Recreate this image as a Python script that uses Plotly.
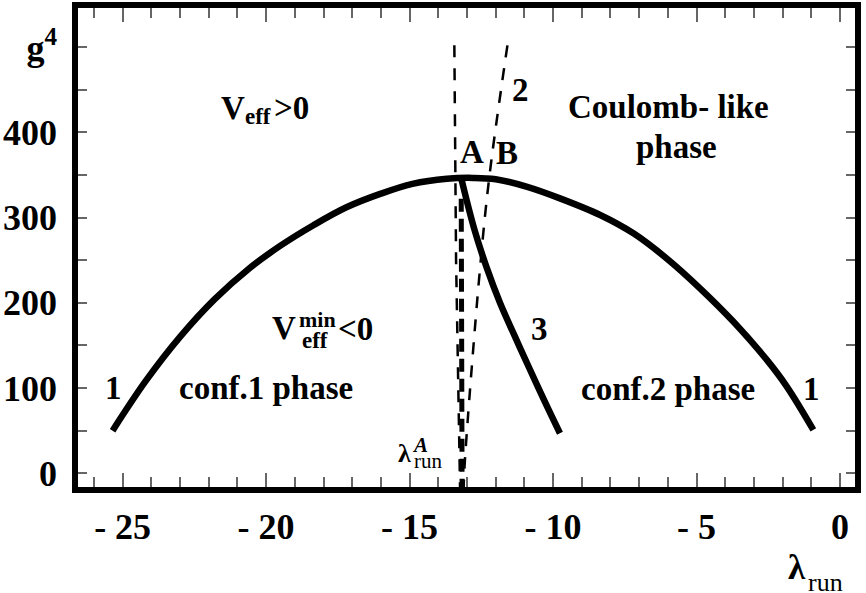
import plotly.graph_objects as go

# ---------------- data ----------------
curve1_lambda = [-25.35, -24.2, -23.0, -21.8, -20.6, -19.5, -18.35, -17.2, -16.0, -14.9, -13.7,
                 -12.8, -12.0, -10.9, -9.76, -8.36, -7.2, -6.04, -4.88, -3.72, -2.55, -1.86, -0.93]
curve1_g4 = [50, 108, 160, 204, 240, 267, 291, 312, 328, 339.5, 345.5,
             346.5, 345, 336, 322.5, 303, 281.5, 252, 217, 178, 133, 102, 51]

curve3_lambda = [-13.2, -12.75, -12.3, -11.85, -11.35, -10.85, -10.3, -9.76]
curve3_g4 = [346, 287, 240, 200, 162, 125, 85, 47]

curve2_lambda = [-11.59, -12.22, -12.57, -13.07, -13.12]
curve2_g4 = [502, 348, 231, 16, -20]

lineL_lambda = [-13.44, -13.38, -13.24]
lineL_g4 = [502, 250, -20]

lineA_lambda = [-13.2, -13.17]
lineA_g4 = [322, -20]

x_tickvals = [-25, -20, -15, -10, -5, 0]
x_ticktext = ["- 25", "- 20", "- 15", "- 10", "- 5", "0"]
x_minor = list(range(-26, 1))
y_tickvals = [0, 100, 200, 300, 400, 500]
y_ticktext = ["0", "100", "200", "300", "400", "g<sup>4</sup>"]
y_minor = [0, 50, 100, 150, 200, 250, 300, 350, 400, 450, 500]

FONT = "Liberation Serif"

fig = go.Figure()
fig.add_trace(go.Scatter(x=curve1_lambda, y=curve1_g4, mode="lines",
                         line=dict(color="black", width=6.5, shape="spline", smoothing=1.0),
                         showlegend=False))
fig.add_trace(go.Scatter(x=curve3_lambda, y=curve3_g4, mode="lines",
                         line=dict(color="black", width=6.5, shape="spline", smoothing=1.0),
                         showlegend=False))
fig.add_trace(go.Scatter(x=curve2_lambda, y=curve2_g4, mode="lines",
                         line=dict(color="black", width=2.5, dash="12px,11px", shape="spline"),
                         showlegend=False))
fig.add_trace(go.Scatter(x=lineL_lambda, y=lineL_g4, mode="lines",
                         line=dict(color="black", width=2.5, dash="12px,11px"), showlegend=False))
fig.add_trace(go.Scatter(x=lineA_lambda, y=lineA_g4, mode="lines",
                         line=dict(color="black", width=5, dash="13px,7px"), showlegend=False))


def txt(text, x, y, size=33, bold=True, italic=False, xref="x", yref="y"):
    fig.add_annotation(text=text, x=x, y=y, xref=xref, yref=yref, showarrow=False,
                       xanchor="center", yanchor="middle",
                       font=dict(family=FONT, size=size, color="black",
                                 weight="bold" if bold else "normal",
                                 style="italic" if italic else "normal"))


# region labels
txt("V", -21.14, 429)
txt("eff", -20.3, 418, size=23)
txt("&gt;0", -19.11, 429)

txt("V", -19.37, 170)
txt("min", -18.2, 180, size=22)
txt("eff", -18.3, 156, size=23)
txt("&lt;0", -16.9, 169)

txt("Coulomb- like", -5.96, 430)
txt("phase", -5.71, 383)
txt("conf.1 phase", -20.02, 100)
txt("conf.2 phase", -6.01, 99)
txt("1", -25.32, 100)
txt("1", -0.99, 99)
txt("2", -11.15, 450)
txt("3", -10.49, 169)
txt("A", -12.83, 377)
txt("B", -11.61, 376)

# lambda_run^A
txt("λ", -15.16, 23, size=26)
txt("A", -14.63, 33, size=21, bold=True, italic=True)
txt("run", -14.37, 15, size=21, bold=False)

# x axis title lambda_run
txt("λ", 0.9227, -0.160, size=35, xref="paper", yref="paper")
txt("run", 0.9579, -0.190, size=26, bold=False, xref="paper", yref="paper")

# frame
fig.add_shape(type="rect", xref="paper", yref="paper", x0=0, x1=1, y0=0, y1=1,
              line=dict(color="black", width=6), layer="above")

tickfont = dict(family=FONT, size=36, color="black", weight="bold")
fig.update_xaxes(range=[-26.66, 0.627], tickmode="array", tickvals=x_tickvals, ticktext=x_ticktext,
                 ticks="inside", ticklen=17, tickwidth=1.5, tickcolor="#666", mirror="ticks",
                 showgrid=False, zeroline=False, showline=False, tickfont=tickfont,
                 automargin=False, ticklabelstandoff=12,
                 minor=dict(tickmode="array", tickvals=x_minor, ticks="inside", ticklen=13,
                            tickwidth=1.5, tickcolor="#666", showgrid=False))
fig.update_yaxes(range=[-19.6, 549.3], tickmode="array", tickvals=y_tickvals, ticktext=y_ticktext,
                 ticks="inside", ticklen=12, tickwidth=1.5, tickcolor="#666", mirror="ticks",
                 showgrid=False, zeroline=False, showline=False, tickfont=tickfont,
                 automargin=False, ticklabelstandoff=17,
                 minor=dict(tickmode="array", tickvals=y_minor, ticks="inside", ticklen=12,
                            tickwidth=1.5, tickcolor="#666", showgrid=False))

fig.update_layout(width=866, height=593, autosize=False,
                  margin=dict(l=75, r=8, t=5, b=103),
                  plot_bgcolor="white", paper_bgcolor="white")

fig.write_html("out.html", config={"displayModeBar": False},
               post_script="document.body.style.margin='0';")
